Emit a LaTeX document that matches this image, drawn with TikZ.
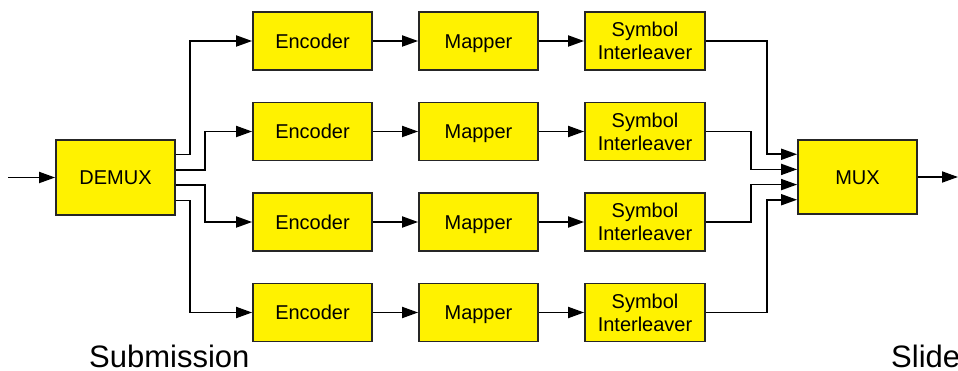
\documentclass[tikz,border=0pt]{standalone}
\usepackage{fontspec}
\setmainfont{Liberation Sans}
\usetikzlibrary{arrows.meta,calc}
\begin{document}
\begin{tikzpicture}[x=1pt,y=-1pt,
  blk/.style={draw=black!85,line width=1.8pt,fill=yellow,minimum width=119pt,minimum height=58pt,
    inner sep=0pt,align=center,font=\fontsize{20}{23}\selectfont},
  one/.style={text height=14.3pt,text depth=0pt},
  arr/.style={line width=1.8pt,-{Triangle[length=16pt,width=11pt]}},
  captxt/.style={font=\fontsize{31}{34}\selectfont,inner sep=0pt,anchor=base west,text depth=0pt}]
\clip (0,0) rectangle (958,371);
\fill[white] (0,0) rectangle (958,371);
\node[blk,one,minimum height=75pt] (dm) at (115.5,177.5) {DEMUX};
\node[blk,one,minimum height=74pt] (mx) at (857.5,177) {MUX};
\foreach \r/\y in {1/41,2/131.5,3/222,4/312.5}{
  \node[blk,one] (e\r) at (312.5,\y) {Encoder};
  \node[blk,one] (m\r) at (478.5,\y) {Mapper};
  \node[blk,minimum width=120pt] (s\r) at (645,\y) {Symbol\\Interleaver};
  \draw[arr] (e\r) -- (m\r);
  \draw[arr] (m\r) -- (s\r);
}
\coordinate (in) at (8,177.5);
\coordinate (out) at (958,177);
\draw[arr] (in) -- (dm);
\draw[arr] (mx) -- (out);
% demux fan-out
\foreach \r/\f/\o in {1/0.2/-62,2/0.4/-47,3/0.6/-47,4/0.8/-62}{
  \draw[arr] ($(dm.north east)!\f!(dm.south east)$) -| ($(e\r.west)+(\o,0)$) -- (e\r.west);
}
% mux fan-in
\foreach \r/\f/\o in {1/0.2/-30,2/0.4/-46,3/0.6/-46,4/0.8/-30}{
  \draw[arr] (s\r.east) -| ($(mx.north west)!\f!(mx.south west)+(\o,0)$) -- ($(mx.north west)!\f!(mx.south west)$);
}
\node[captxt] (sub) at (89,367) {Submission};
\node[captxt] (sl) at (891,367) {Slide};
\end{tikzpicture}
\end{document}
